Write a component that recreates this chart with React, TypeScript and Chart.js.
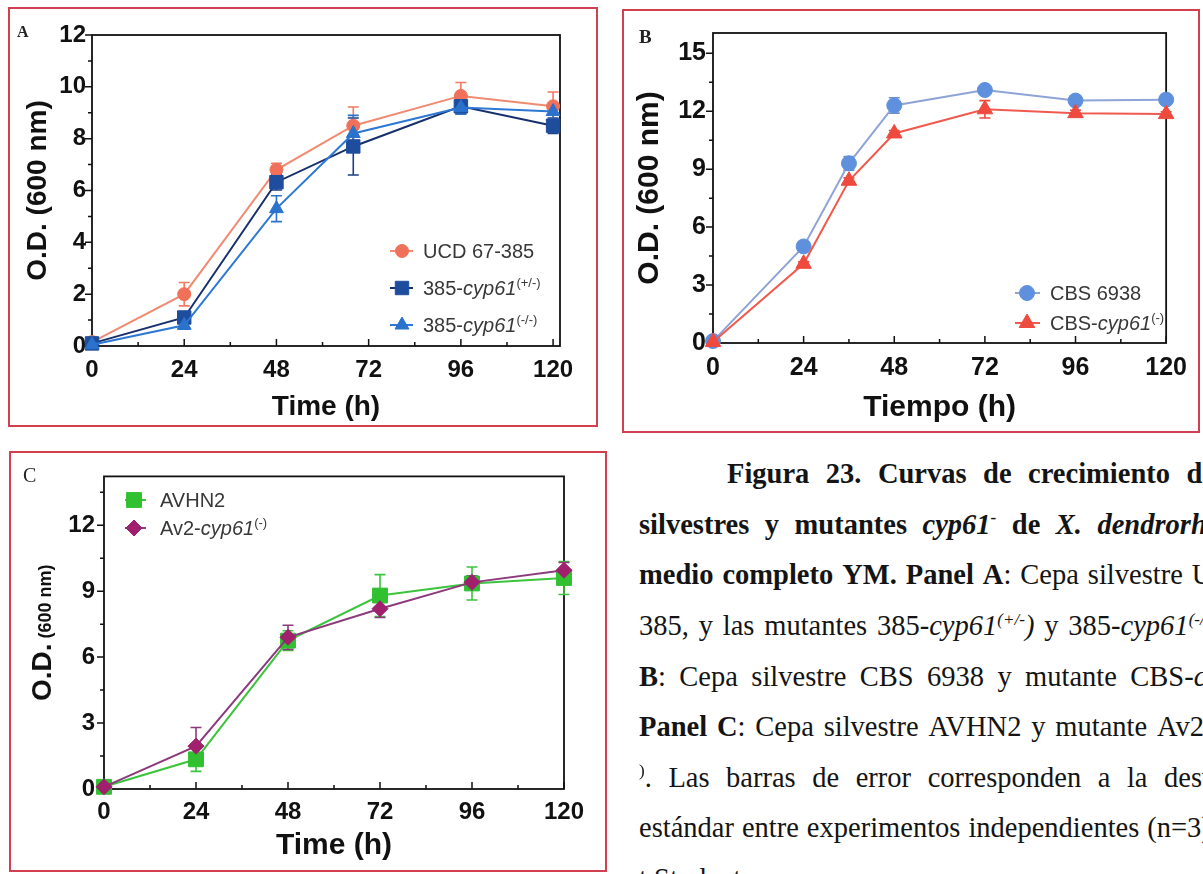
import React, { useEffect, useRef } from 'react';
import { Chart, registerables } from 'chart.js';
import { drawPoint } from 'chart.js/helpers';

Chart.register(...registerables);

const SANS = '"Liberation Sans", Arial, Helvetica, sans-serif';
const SERIF = '"Liberation Serif", "Times New Roman", Times, serif';

// ---------------- Panel A data ----------------
const timeA = [0, 24, 48, 68, 96, 120];
const ucdA = [0.15, 2.0, 6.8, 8.5, 9.65, 9.25];
const ucdErrA = [0, 0.45, 0.25, 0.72, 0.52, 0.55];
const hetA = [0.1, 1.1, 6.32, 7.7, 9.25, 8.5];
const hetErrA = [0, 0.2, 0.3, 1.1, 0.3, 0.3];
const homA = [0.05, 0.8, 5.3, 8.2, 9.2, 9.05];
const homErrA = [0, 0.15, 0.5, 0.7, 0.25, 0.3];
const xTicksA = [0, 24, 48, 72, 96, 120];
const yTicksA = [0, 2, 4, 6, 8, 10, 12];

// ---------------- Panel B data ----------------
const timeB = [0, 24, 36, 48, 72, 96, 120];
const cbsB = [0.1, 5.0, 9.3, 12.3, 13.1, 12.55, 12.6];
const cbsErrB = [0, 0.1, 0.35, 0.4, 0.15, 0.12, 0.1];
const cbsMutB = [0.05, 4.1, 8.4, 10.85, 12.1, 11.9, 11.85];
const cbsMutErrB = [0, 0.1, 0.15, 0.15, 0.45, 0.15, 0.12];
const xTicksB = [0, 24, 48, 72, 96, 120];
const yTicksB = [0, 3, 6, 9, 12, 15];

// ---------------- Panel C data ----------------
const timeC = [0, 24, 48, 72, 96, 120];
const avhnC = [0.1, 1.35, 6.75, 8.8, 9.35, 9.6];
const avhnErrC = [0, 0.55, 0.45, 0.95, 0.75, 0.75];
const av2C = [0.1, 1.95, 6.9, 8.2, 9.4, 9.95];
const av2ErrC = [0, 0.85, 0.55, 0.4, 0.3, 0.35];
const xTicksC = [0, 24, 48, 72, 96, 120];
const yTicksC = [0, 3, 6, 9, 12];

type Seg = { t: string; i?: boolean; sup?: boolean };
type Series = {
  label: string; legend: Seg[]; x: number[]; y: number[]; err: number[];
  line: string; fill: string; errColor: string; style: string; radius: number;
};
type Panel = {
  left: number; top: number; w: number; h: number;
  padTop: number; padRight: number; yAxisW: number; xAxisH: number;
  xMin: number; xMax: number; yMin: number; yMax: number;
  xTicks: number[]; yTicks: number[];
  tickSize: number; xTickPad: number; yTickPad: number;
  xTitle: string; xTitleSize: number; xTitlePad: number;
  yTitle: string | null; yTitleSize: number; yTitlePad: number;
  customYTitle?: { x: number; big: string; small: string; bigSize: number; smallSize: number };
  legend: { x0: number; x1: number; mx: number; tx: number; rows: number[]; size: number };
  series: Series[];
};

const panelA: Panel = {
  left: 10, top: 10, w: 584, h: 413,
  padTop: 25, padRight: 34, yAxisW: 82, xAxisH: 77,
  xMin: 0, xMax: 121.8, yMin: 0, yMax: 12,
  xTicks: xTicksA, yTicks: yTicksA,
  tickSize: 24, xTickPad: 10, yTickPad: 6,
  xTitle: 'Time (h)', xTitleSize: 28, xTitlePad: 2,
  yTitle: 'O.D. (600 nm)', yTitleSize: 28, yTitlePad: 14,
  legend: { x0: 380, x1: 403, mx: 392, tx: 413, rows: [241, 278, 315], size: 20 },
  series: [
    { label: 'UCD 67-385', legend: [{ t: 'UCD 67-385' }], x: timeA, y: ucdA, err: ucdErrA,
      line: '#f08a70', fill: '#f0705a', errColor: '#f07a62', style: 'circle', radius: 6.5 },
    { label: '385-cyp61(+/-)', legend: [{ t: '385-' }, { t: 'cyp61', i: true }, { t: '(+/-)', sup: true }],
      x: timeA, y: hetA, err: hetErrA, line: '#17306c', fill: '#1f4d9e', errColor: '#1d3f86', style: 'rect', radius: 9.5 },
    { label: '385-cyp61(-/-)', legend: [{ t: '385-' }, { t: 'cyp61', i: true }, { t: '(-/-)', sup: true }],
      x: timeA, y: homA, err: homErrA, line: '#2c78d4', fill: '#2a72cc', errColor: '#2a72cc', style: 'triangle', radius: 8 },
  ],
};

const panelB: Panel = {
  left: 624, top: 11, w: 573, h: 419,
  padTop: 22, padRight: 19, yAxisW: 89, xAxisH: 87,
  xMin: 0, xMax: 120, yMin: 0, yMax: 16.05,
  xTicks: xTicksB, yTicks: yTicksB,
  tickSize: 25, xTickPad: 10, yTickPad: 7,
  xTitle: 'Tiempo (h)', xTitleSize: 30, xTitlePad: 7,
  yTitle: 'O.D. (600 nm)', yTitleSize: 30, yTitlePad: 11,
  legend: { x0: 391, x1: 416, mx: 403, tx: 426, rows: [282, 312], size: 20 },
  series: [
    { label: 'CBS 6938', legend: [{ t: 'CBS 6938' }], x: timeB, y: cbsB, err: cbsErrB,
      line: '#8ea4d6', fill: '#5e90de', errColor: '#6d8fd2', style: 'circle', radius: 7.5 },
    { label: 'CBS-cyp61(-)', legend: [{ t: 'CBS-' }, { t: 'cyp61', i: true }, { t: '(-)', sup: true }],
      x: timeB, y: cbsMutB, err: cbsMutErrB, line: '#f05a4e', fill: '#ee4a3e', errColor: '#ee4a3e', style: 'triangle', radius: 9 },
  ],
};

const panelC: Panel = {
  left: 11, top: 453, w: 593, h: 416,
  padTop: 22, padRight: 40, yAxisW: 93, xAxisH: 80,
  xMin: 0, xMax: 120, yMin: 0, yMax: 14.22,
  xTicks: xTicksC, yTicks: yTicksC,
  tickSize: 24, xTickPad: 9, yTickPad: 9,
  xTitle: 'Time (h)', xTitleSize: 30, xTitlePad: 8,
  yTitle: null, yTitleSize: 28, yTitlePad: 0,
  customYTitle: { x: 40, big: 'O.D.', small: ' (600 nm)', bigSize: 28, smallSize: 18 },
  legend: { x0: 114, x1: 135, mx: 123, tx: 149, rows: [47, 75], size: 20 },
  series: [
    { label: 'AVHN2', legend: [{ t: 'AVHN2' }], x: timeC, y: avhnC, err: avhnErrC,
      line: '#3cc43c', fill: '#30c030', errColor: '#3cc43c', style: 'rect', radius: 10.5 },
    { label: 'Av2-cyp61(-)', legend: [{ t: 'Av2-' }, { t: 'cyp61', i: true }, { t: '(-)', sup: true }],
      x: timeC, y: av2C, err: av2ErrC, line: '#8c3a7c', fill: '#a0206e', errColor: '#8c3a7c', style: 'rectRot', radius: 8 },
  ],
};

function minorValues(vals: number[], max: number) {
  const out: number[] = [];
  for (let i = 0; i < vals.length - 1; i++) out.push((vals[i] + vals[i + 1]) / 2);
  const step = vals[1] - vals[0];
  const extra = vals[vals.length - 1] + step / 2;
  if (extra < max) out.push(extra);
  return out;
}

function makePlugins(p: Panel) {
  const frame = {
    id: 'frameTicks',
    beforeDatasetsDraw(chart: any) {
      const { ctx, chartArea: a } = chart;
      const xs = chart.scales.x, ys = chart.scales.y;
      const xv: number[] = xs.ticks.map((t: any) => t.value);
      const yv: number[] = ys.ticks.map((t: any) => t.value);
      ctx.save();
      ctx.strokeStyle = '#111';
      ctx.lineWidth = 1.8;
      ctx.strokeRect(a.left, a.top, a.right - a.left, a.bottom - a.top);
      ctx.lineWidth = 1.5;
      ctx.beginPath();
      xv.forEach((v) => { const px = xs.getPixelForValue(v); ctx.moveTo(px, a.bottom); ctx.lineTo(px, a.bottom - 7); });
      minorValues(xv, xs.max).forEach((v) => { const px = xs.getPixelForValue(v); ctx.moveTo(px, a.bottom); ctx.lineTo(px, a.bottom - 4); });
      yv.forEach((v) => { const py = ys.getPixelForValue(v); ctx.moveTo(a.left, py); ctx.lineTo(a.left - 7, py); });
      minorValues(yv, ys.max).forEach((v) => { const py = ys.getPixelForValue(v); ctx.moveTo(a.left, py); ctx.lineTo(a.left - 4, py); });
      ctx.stroke();
      ctx.restore();
    },
  };
  const errors = {
    id: 'errorBars',
    beforeDatasetsDraw(chart: any) {
      const { ctx } = chart;
      const xs = chart.scales.x, ys = chart.scales.y;
      p.series.forEach((s) => {
        ctx.save();
        ctx.strokeStyle = s.errColor;
        ctx.lineWidth = 1.6;
        ctx.beginPath();
        s.x.forEach((xv, j) => {
          const e = s.err[j];
          if (!e) return;
          const px = xs.getPixelForValue(xv);
          const t = ys.getPixelForValue(s.y[j] + e);
          const b = ys.getPixelForValue(s.y[j] - e);
          ctx.moveTo(px, t); ctx.lineTo(px, b);
          ctx.moveTo(px - 5.5, t); ctx.lineTo(px + 5.5, t);
          ctx.moveTo(px - 5.5, b); ctx.lineTo(px + 5.5, b);
        });
        ctx.stroke();
        ctx.restore();
      });
    },
  };
  const legend = {
    id: 'richLegend',
    afterDraw(chart: any) {
      const { ctx } = chart;
      const L = p.legend;
      p.series.forEach((s, i) => {
        const y = L.rows[i];
        ctx.save();
        ctx.strokeStyle = s.line;
        ctx.lineWidth = 2;
        ctx.beginPath(); ctx.moveTo(L.x0, y); ctx.lineTo(L.x1, y); ctx.stroke();
        ctx.fillStyle = s.fill;
        ctx.strokeStyle = s.fill;
        ctx.lineWidth = 1;
        drawPoint(ctx, { pointStyle: s.style as any, rotation: 0, radius: s.radius, borderWidth: 1 } as any, L.mx, y);
        let x = L.tx;
        const base = y + 7;
        ctx.fillStyle = '#383838';
        ctx.textBaseline = 'alphabetic';
        ctx.textAlign = 'left';
        s.legend.forEach((seg) => {
          const size = seg.sup ? 13 : L.size;
          ctx.font = `${seg.i ? 'italic ' : ''}${size}px ${SANS}`;
          ctx.fillText(seg.t, x, seg.sup ? base - 8 : base);
          x += ctx.measureText(seg.t).width;
        });
        ctx.restore();
      });
    },
  };
  const list: any[] = [frame, errors, legend];
  if (p.customYTitle) {
    const T = p.customYTitle;
    list.push({
      id: 'customYTitle',
      afterDraw(chart: any) {
        const { ctx, chartArea: a } = chart;
        ctx.save();
        ctx.translate(T.x, (a.top + a.bottom) / 2);
        ctx.rotate(-Math.PI / 2);
        ctx.fillStyle = '#111';
        ctx.textBaseline = 'alphabetic';
        ctx.textAlign = 'left';
        ctx.font = `bold ${T.bigSize}px ${SANS}`;
        const w1 = ctx.measureText(T.big).width;
        ctx.font = `bold ${T.smallSize}px ${SANS}`;
        const w2 = ctx.measureText(T.small).width;
        const x0 = -(w1 + w2) / 2;
        ctx.font = `bold ${T.bigSize}px ${SANS}`;
        ctx.fillText(T.big, x0, 0);
        ctx.font = `bold ${T.smallSize}px ${SANS}`;
        ctx.fillText(T.small, x0 + w1, 0);
        ctx.restore();
      },
    });
  }
  return list;
}

function makeConfig(p: Panel): any {
  const tickFont = { family: SANS, size: p.tickSize, weight: 'bold' };
  return {
    type: 'line',
    data: {
      datasets: p.series.map((s, i) => ({
        label: s.label,
        data: s.x.map((x, j) => ({ x, y: s.y[j] })),
        borderColor: s.line,
        backgroundColor: s.fill,
        pointBackgroundColor: s.fill,
        pointBorderColor: s.fill,
        pointBorderWidth: 1,
        pointStyle: s.style,
        pointRadius: s.radius,
        pointHoverRadius: s.radius,
        borderWidth: 2,
        tension: 0,
        clip: false,
        order: p.series.length - i,
      })),
    },
    options: {
      responsive: false,
      animation: false,
      devicePixelRatio: 1,
      events: [],
      layout: { padding: { top: p.padTop, right: p.padRight, left: 0, bottom: 0 } },
      plugins: { legend: { display: false }, tooltip: { enabled: false } },
      scales: {
        x: {
          type: 'linear', position: 'bottom', min: p.xMin, max: p.xMax,
          afterBuildTicks: (s: any) => { s.ticks = p.xTicks.map((v) => ({ value: v })); },
          afterFit: (s: any) => { s.height = p.xAxisH; },
          grid: { display: false, drawTicks: false },
          border: { display: false },
          ticks: { font: tickFont, color: '#111', padding: p.xTickPad, maxRotation: 0, autoSkip: false, callback: (v: any) => String(v) },
          title: {
            display: true, text: p.xTitle, color: '#111',
            font: { family: SANS, size: p.xTitleSize, weight: 'bold', lineHeight: 1 },
            padding: { top: 0, bottom: p.xTitlePad },
          },
        },
        y: {
          type: 'linear', position: 'left', min: p.yMin, max: p.yMax,
          afterBuildTicks: (s: any) => { s.ticks = p.yTicks.map((v) => ({ value: v })); },
          afterFit: (s: any) => { s.width = p.yAxisW; },
          grid: { display: false, drawTicks: false },
          border: { display: false },
          ticks: { font: tickFont, color: '#111', padding: p.yTickPad, autoSkip: false, callback: (v: any) => String(v) },
          title: {
            display: !!p.yTitle, text: p.yTitle || '', color: '#111',
            font: { family: SANS, size: p.yTitleSize, weight: 'bold', lineHeight: 1 },
            padding: { top: p.yTitlePad, bottom: 0 },
          },
        },
      },
    },
    plugins: makePlugins(p),
  };
}

function PanelCanvas({ p }: { p: Panel }) {
  const ref = useRef<HTMLCanvasElement | null>(null);
  useEffect(() => {
    const c = new Chart(ref.current as HTMLCanvasElement, makeConfig(p));
    return () => c.destroy();
  }, [p]);
  return (
    <canvas
      ref={ref}
      width={p.w}
      height={p.h}
      style={{ position: 'absolute', left: p.left, top: p.top, width: p.w, height: p.h }}
    />
  );
}

// ---------------- caption text ----------------
type TSeg = { t: string; b?: boolean; i?: boolean; sup?: boolean };
type CapLine = { left: number; right?: number; words: TSeg[][] };
const B = (t: string): TSeg[] => [{ t, b: true }];
const R = (t: string): TSeg[] => [{ t }];

const captionLines: CapLine[] = [
  { left: 727, right: 1215, words: [B('Figura'), B('23.'), B('Curvas'), B('de'), B('crecimiento'), B('de')] },
  { left: 639, right: 1248, words: [B('silvestres'), B('y'), B('mutantes'),
    [{ t: 'cyp61', b: true, i: true }, { t: '-', b: true, sup: true }], B('de'),
    [{ t: 'X.', b: true, i: true }], [{ t: 'dendrorhous', b: true, i: true }]] },
  { left: 639, right: 1252, words: [B('medio'), B('completo'), B('YM.'), B('Panel'),
    [{ t: 'A', b: true }, { t: ':' }], R('Cepa'), R('silvestre'), R('UCD')] },
  { left: 639, right: 1220, words: [R('385,'), R('y'), R('las'), R('mutantes'),
    [{ t: '385-' }, { t: 'cyp61', i: true }, { t: '(+/-', i: true, sup: true }, { t: ')', i: true }], R('y'),
    [{ t: '385-' }, { t: 'cyp61', i: true }, { t: '(-/-', i: true, sup: true }, { t: ')', i: true }]] },
  { left: 639, right: 1286, words: [[{ t: 'B', b: true }, { t: ':' }], R('Cepa'), R('silvestre'), R('CBS'), R('6938'), R('y'), R('mutante'),
    [{ t: 'CBS-' }, { t: 'cyp61', i: true }, { t: '(-)', sup: true }, { t: '.' }]] },
  { left: 639, right: 1293, words: [B('Panel'), [{ t: 'C', b: true }, { t: ':' }], R('Cepa'), R('silvestre'), R('AVHN2'), R('y'), R('mutante'),
    [{ t: 'Av2-' }, { t: 'cyp61', i: true }, { t: '(-', sup: true }]] },
  { left: 639, right: 1286, words: [[{ t: ')', sup: true }, { t: '.' }], R('Las'), R('barras'), R('de'), R('error'), R('corresponden'), R('a'), R('la'), R('desviación')] },
  { left: 639, right: 1218, words: [R('estándar'), R('entre'), R('experimentos'), R('independientes'), R('(n=3),')] },
  { left: 639, words: [R('t'), R('Student.')] },
];

const CAP_SIZE = 28.5;
const CAP_BASE0 = 484;
const CAP_STEP = 50.6;

function Caption() {
  return (
    <>
      {captionLines.map((L, k) => {
        const top = CAP_BASE0 + CAP_STEP * k - 0.8375 * CAP_SIZE;
        const style: React.CSSProperties = {
          position: 'absolute', left: L.left, top,
          fontFamily: SERIF, fontSize: CAP_SIZE, lineHeight: `${CAP_SIZE}px`, color: '#141414',
          whiteSpace: 'nowrap',
        };
        if (L.right) {
          Object.assign(style, { width: L.right - L.left, display: 'flex', justifyContent: 'space-between', alignItems: 'baseline' });
        }
        return (
          <div key={k} style={style}>
            {L.words.map((w, j) => (
              <span key={j}>
                {w.map((s, m) => (
                  <span
                    key={m}
                    style={{
                      fontWeight: s.b ? 'bold' : 'normal',
                      fontStyle: s.i ? 'italic' : 'normal',
                      ...(s.sup ? { fontSize: '0.6em', position: 'relative' as const, top: '-0.6em' } : {}),
                    }}
                  >
                    {s.t}
                  </span>
                ))}
                {!L.right && j < L.words.length - 1 ? ' ' : null}
              </span>
            ))}
          </div>
        );
      })}
    </>
  );
}

const FRAME = '#d2404f';

function Frame({ l, t, w, h }: { l: number; t: number; w: number; h: number }) {
  return (
    <div style={{ position: 'absolute', left: l, top: t, width: w, height: h, border: `2px solid ${FRAME}`, boxSizing: 'border-box' }} />
  );
}

function Letter({ ch, x, base, size, bold }: { ch: string; x: number; base: number; size: number; bold: boolean }) {
  return (
    <div style={{ position: 'absolute', left: x, top: base - 0.8375 * size, fontFamily: SERIF, fontSize: size, lineHeight: `${size}px`, fontWeight: bold ? 'bold' : 'normal', color: '#222' }}>
      {ch}
    </div>
  );
}

export default function App() {
  return (
    <div style={{ position: 'fixed', left: 0, top: 0, width: 1203, height: 874, overflow: 'hidden', background: '#fff' }}>
      <Frame l={8} t={7} w={590} h={420} />
      <Frame l={622} t={9} w={578} h={424} />
      <Frame l={9} t={451} w={598} h={421} />
      <PanelCanvas p={panelA} />
      <PanelCanvas p={panelB} />
      <PanelCanvas p={panelC} />
      <Letter ch="A" x={17} base={37} size={16} bold />
      <Letter ch="B" x={639} base={43} size={19} bold />
      <Letter ch="C" x={23} base={482} size={20} bold={false} />
      <Caption />
    </div>
  );
}
